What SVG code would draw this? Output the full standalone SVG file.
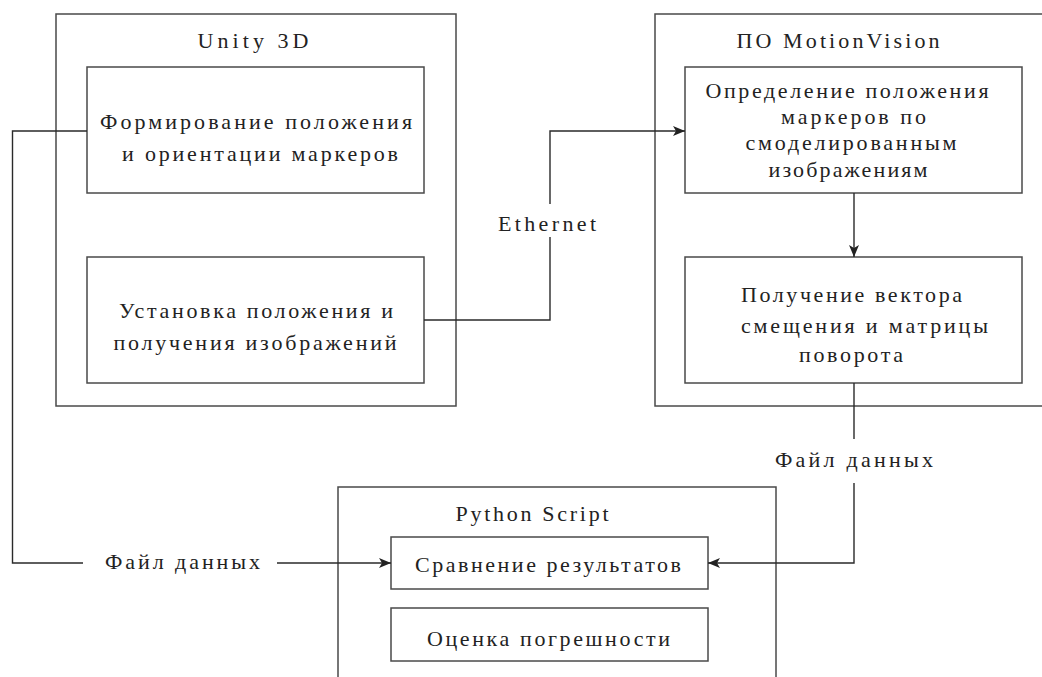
<svg xmlns="http://www.w3.org/2000/svg" width="1042" height="677" viewBox="0 0 1042 677">
  <style>
    .box { fill: none; stroke: #4a4a4a; stroke-width: 1.5; }
    .con { fill: none; stroke: #2a2a2a; stroke-width: 1.4; }
    text { fill: #222; text-anchor: middle; font-family: 'Liberation Serif', 'Times New Roman', serif; font-size: 22px; }
  </style>
  <defs>
    <marker id="arr" viewBox="0 0 12 10" refX="12" refY="5" markerWidth="12" markerHeight="10" markerUnits="userSpaceOnUse" orient="auto">
      <path d="M0,0 L12,5 L0,10 L3,5 z" fill="#222"/>
    </marker>
  </defs>
  <rect width="1042" height="677" fill="#fff"/>

  <g id="unity">
    <rect class="box" x="56" y="14" width="400" height="392"/>
    <text x="253" y="48" textLength="111" lengthAdjust="spacing">Unity 3D</text>
  </g>
  <g id="unity-form">
    <rect class="box" x="87" y="67" width="337" height="126"/>
    <text x="256" y="129" textLength="312" lengthAdjust="spacing">Формирование положения</text>
    <text x="260" y="161" textLength="276" lengthAdjust="spacing">и ориентации маркеров</text>
  </g>
  <g id="unity-set">
    <rect class="box" x="87" y="257" width="337" height="126"/>
    <text x="256" y="318" textLength="274" lengthAdjust="spacing">Установка положения и</text>
    <text x="255" y="350" textLength="283" lengthAdjust="spacing">получения изображений</text>
  </g>

  <g id="motionvision">
    <rect class="box" x="655" y="14" width="400" height="392"/>
    <text x="838" y="48" textLength="203" lengthAdjust="spacing">ПО MotionVision</text>
  </g>
  <g id="mv-detect">
    <rect class="box" x="685" y="67" width="337" height="126"/>
    <text x="847" y="98" textLength="283" lengthAdjust="spacing">Определение положения</text>
    <text x="853.5" y="124" textLength="145" lengthAdjust="spacing">маркеров по</text>
    <text x="851" y="150" textLength="211" lengthAdjust="spacing">смоделированным</text>
    <text x="848" y="176.5" textLength="159" lengthAdjust="spacing">изображениям</text>
  </g>
  <g id="mv-vector">
    <rect class="box" x="685" y="257" width="337" height="126"/>
    <text x="851.5" y="302" textLength="221" lengthAdjust="spacing">Получение вектора</text>
    <text x="864.5" y="333" textLength="247" lengthAdjust="spacing">смещения и матрицы</text>
    <text x="851" y="362" textLength="104" lengthAdjust="spacing">поворота</text>
  </g>

  <g id="python">
    <rect class="box" x="338" y="487" width="438" height="210"/>
    <text x="532" y="521" textLength="153" lengthAdjust="spacing">Python Script</text>
  </g>
  <g id="py-compare">
    <rect class="box" x="391" y="537" width="317" height="52"/>
    <text x="548" y="572" textLength="266" lengthAdjust="spacing">Сравнение результатов</text>
  </g>
  <g id="py-error">
    <rect class="box" x="391" y="608" width="317" height="53"/>
    <text x="548.5" y="646" textLength="243" lengthAdjust="spacing">Оценка погрешности</text>
  </g>

  <g id="connectors">
    <path class="con" d="M87,131 H12.5 V563 H83"/>
    <path class="con" d="M277,563 H391" marker-end="url(#arr)"/>
    <text x="182.5" y="569" textLength="155" lengthAdjust="spacing">Файл данных</text>

    <path class="con" d="M424,320 H550 V237"/>
    <path class="con" d="M550,204 V131 H685" marker-end="url(#arr)"/>
    <text x="547" y="231" textLength="98" lengthAdjust="spacing">Ethernet</text>

    <path class="con" d="M854,193 V257" marker-end="url(#arr)"/>

    <path class="con" d="M854,383 V439"/>
    <path class="con" d="M854,483 V563 H708" marker-end="url(#arr)"/>
    <text x="854" y="467" textLength="158" lengthAdjust="spacing">Файл данных</text>
  </g>
</svg>
